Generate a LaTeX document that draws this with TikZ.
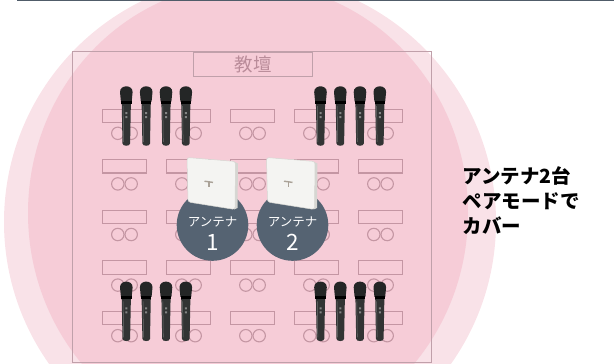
\documentclass[tikz,border=0pt]{standalone}
\usepackage{fontspec}
\usepackage{tikz}
\usetikzlibrary{positioning,calc}
\newfontfamily\jp{Noto Sans CJK JP}

\definecolor{pinklight}{RGB}{249,226,232}
\definecolor{pinkdark}{RGB}{246,204,215}
\definecolor{deskline}{RGB}{196,150,163}
\definecolor{roomline}{RGB}{192,160,170}
\definecolor{podiumtext}{RGB}{186,140,154}
\definecolor{badge}{RGB}{85,99,114}
\definecolor{rule}{RGB}{80,92,105}
\definecolor{michead}{RGB}{36,38,38}
\definecolor{micbody}{RGB}{50,52,52}
\definecolor{boxface}{RGB}{244,244,242}
\definecolor{boxside}{RGB}{214,214,210}
\definecolor{logo}{RGB}{170,162,152}

\tikzset{
  mic/.pic={
    \fill[micbody] (-4.6,17) -- (4.6,17) -- (3.8,58.5)
      .. controls (3.8,61.5) and (-3.8,61.5) .. (-3.8,58.5) -- cycle;
    \draw[micbody!70!white,line width=0.5pt] (-3.2,21) -- (-2.7,57);
    \fill[micbody!60!white] (-1,27) rectangle (1,29) (-1,31) rectangle (1,33);
    \fill[michead] (-6.3,7) .. controls (-6.3,-0.6) and (6.3,-0.6) .. (6.3,7)
      -- (5.4,16.5) -- (-5.4,16.5) -- cycle;
    \fill[black] (-5.2,16) rectangle (5.2,19);
  },
  antenna box/.pic={
    \fill[boxside] (21,-21.5) -- (25,-19.5) -- (24.5,25) -- (21,26.5) -- cycle;
    \filldraw[fill=boxface,draw=boxside,line width=0.5pt,rounded corners=2.5pt]
      (-26,-25.5) -- (22.5,-21.5) -- (22,26.5) -- (-25,19) -- cycle;
    \draw[logo,line width=1.4pt] (-8.5,-1.8) -- (0,-0.6);
    \draw[logo,line width=1.4pt] (-4.2,-1.2) -- (-4.2,4);
  }
}

\begin{document}
\begin{tikzpicture}[x=1pt,y=-1pt,
  desk node/.style={rectangle,draw=deskline,line width=1.1pt,
    minimum width=44.4pt,minimum height=13.3pt,inner sep=0pt},
  seat node/.style={circle,draw=deskline,line width=1.1pt,
    minimum size=12.4pt,inner sep=0pt},
  badge node/.style={circle,fill=badge,minimum size=71.6pt,inner sep=0pt},
  badge text/.style={text=white,inner sep=0pt,anchor=base},
  caption node/.style={align=left,inner sep=0pt,anchor=north west,
    font=\jp\bfseries\fontsize{19.5}{25}\selectfont}]
  \useasboundingbox (0,0) rectangle (614,364);
  \clip (0,0) rectangle (614,364);

  % coverage areas
  \fill[pinklight] (250,222) circle[radius=246];
  \fill[pinkdark] (248,213) ellipse[x radius=220,y radius=230];
  \draw[rule,line width=1.4pt] (17,0.7) -- (614,0.7);

  % classroom
  \draw[roomline,line width=1pt] (72.7,51.7) rectangle (431.7,362.7);
  \node[rectangle,draw=roomline,line width=1pt,minimum width=119pt,
    minimum height=24.5pt,inner sep=0pt,anchor=north west] (podium) at (193,51.7) {};
  \node[text=podiumtext,font=\jp\fontsize{18.5}{20}\selectfont] (podium label)
    at ($(podium.center)+(0,0.5)$) {教壇};

  \foreach \c in {0,...,4}
    \foreach \r in {0,...,4} {
      \node[desk node] (desk\c\r) at (124.5+64*\c,115.7+50.6*\r) {};
      \node[seat node] (seat\c\r a) at ($(desk\c\r)+(-6.7,17.6)$) {};
      \node[seat node] (seat\c\r b) at ($(desk\c\r)+(6.7,17.6)$) {};
    }

  % handheld mics
  \foreach \x in {126.3,146.2,166,185.8,320.5,340.3,360,379.8}
    \foreach \y in {85,280.3}
      \pic at (\x,\y) {mic};

  % antennas
  \node[badge node] (ant1) at (212.5,225) {};
  \node[badge node] (ant2) at (292.5,225) {};
  \pic at (213,183) {antenna box};
  \pic at (292.5,183) {antenna box};
  \node[badge text,font=\jp\fontsize{12.5}{14}\selectfont] (ant1 name)
    at ($(ant1.center)+(0,1.5)$) {アンテナ};
  \node[badge text,font=\jp\fontsize{22.5}{24}\selectfont] (ant1 num)
    at ($(ant1.center)+(0,25.5)$) {1};
  \node[badge text,font=\jp\fontsize{12.5}{14}\selectfont] (ant2 name)
    at ($(ant2.center)+(0,1.5)$) {アンテナ};
  \node[badge text,font=\jp\fontsize{22.5}{24}\selectfont] (ant2 num)
    at ($(ant2.center)+(0,25.5)$) {2};

  \node[caption node] (caption) at (462.5,166) {アンテナ2台\\ペアモードで\\カバー};
\end{tikzpicture}
\end{document}
